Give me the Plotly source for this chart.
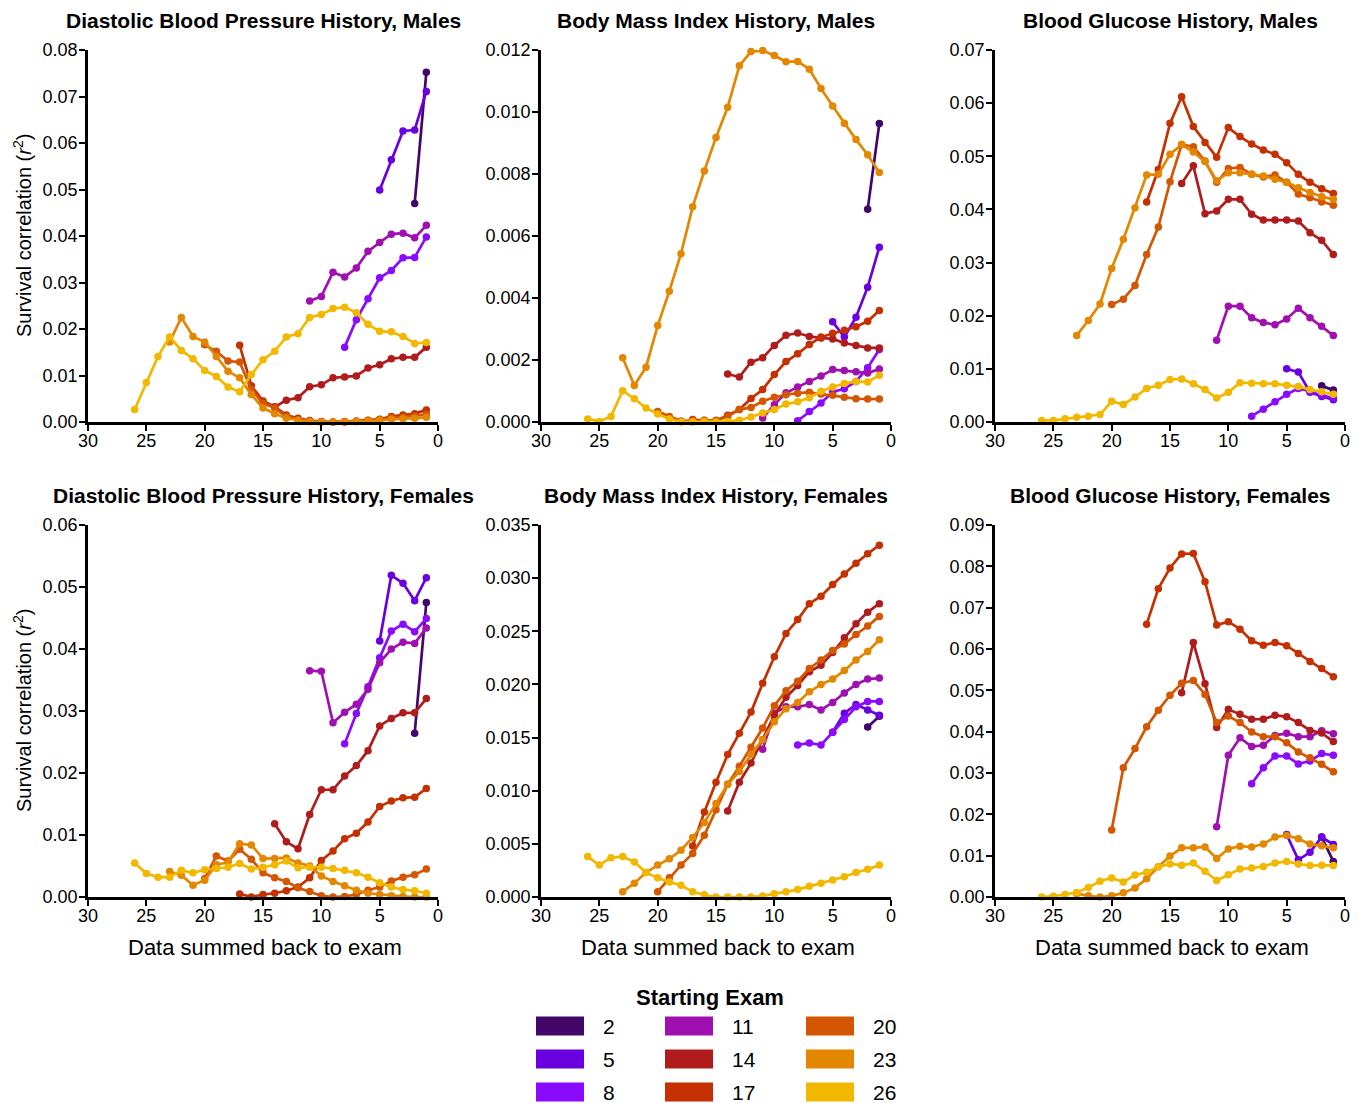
import plotly.graph_objects as go

# ---------------- data ----------------
exams = [2, 5, 8, 11, 14, 17, 20, 23, 26]
exam_colors = ["#43076a", "#6a00e0", "#8a0aff", "#a010b0", "#b01c1c",
               "#c43000", "#d55600", "#e38600", "#f2b800"]

# values listed from x = starting exam down to x = 1
dbp_males = {
    2: [0.0470, 0.0752],
    5: [0.0499, 0.0564, 0.0626, 0.0628, 0.0711],
    8: [0.0161, 0.0220, 0.0265, 0.0310, 0.0326, 0.0353, 0.0354, 0.0398],
    11: [0.0260, 0.0270, 0.0322, 0.0312, 0.0331, 0.0367, 0.0386, 0.0404, 0.0406, 0.0396, 0.0423],
    14: [0.0032, 0.0047, 0.0052, 0.0076, 0.0080, 0.0095, 0.0097, 0.0099, 0.0116, 0.0123, 0.0136, 0.0139, 0.0139, 0.0161],
    17: [0.0165, 0.0078, 0.0045, 0.0033, 0.0015, 0.0008, 0.0003, 0.0001, 0.0000, 0.0001, 0.0002, 0.0004, 0.0006, 0.0012, 0.0015, 0.0018, 0.0026],
    20: [0.0166, 0.0152, 0.0131, 0.0129, 0.0070, 0.0040, 0.0030, 0.0012, 0.0005, 0.0001, 0.0000, 0.0000, 0.0000, 0.0001, 0.0003, 0.0005, 0.0009, 0.0011, 0.0013, 0.0016],
    23: [0.0172, 0.0225, 0.0184, 0.0172, 0.0141, 0.0109, 0.0095, 0.0059, 0.0030, 0.0018, 0.0008, 0.0004, 0.0001, 0.0000, 0.0000, 0.0000, 0.0001, 0.0002, 0.0004, 0.0006, 0.0007, 0.0008, 0.0010],
    26: [0.0027, 0.0085, 0.0141, 0.0183, 0.0154, 0.0136, 0.0111, 0.0098, 0.0075, 0.0065, 0.0102, 0.0134, 0.0152, 0.0183, 0.0190, 0.0225, 0.0231, 0.0244, 0.0247, 0.0235, 0.0210, 0.0195, 0.0194, 0.0184, 0.0169, 0.0171],
}

bmi_males = {
    2: [0.00686, 0.00963],
    5: [0.00323, 0.00274, 0.00338, 0.00435, 0.00564],
    8: [0.00004, 0.00034, 0.00061, 0.00097, 0.00107, 0.00131, 0.00175, 0.00234],
    11: [0.00013, 0.00056, 0.00094, 0.00113, 0.00131, 0.00148, 0.00169, 0.00166, 0.00162, 0.00158, 0.00171],
    14: [0.00155, 0.00145, 0.00193, 0.00207, 0.00247, 0.00280, 0.00287, 0.00276, 0.00271, 0.00268, 0.00255, 0.00247, 0.00239, 0.00239],
    17: [0.00008, 0.00005, 0.00003, 0.00022, 0.00040, 0.00076, 0.00105, 0.00153, 0.00195, 0.00220, 0.00250, 0.00274, 0.00286, 0.00296, 0.00307, 0.00325, 0.00360],
    20: [0.00034, 0.00018, 0.00003, 0.00005, 0.00006, 0.00006, 0.00018, 0.00040, 0.00047, 0.00067, 0.00080, 0.00088, 0.00093, 0.00096, 0.00090, 0.00086, 0.00080, 0.00075, 0.00074, 0.00074],
    23: [0.00207, 0.00118, 0.00177, 0.00311, 0.00422, 0.00543, 0.00694, 0.00810, 0.00918, 0.01015, 0.01149, 0.01195, 0.01198, 0.01182, 0.01162, 0.01163, 0.01138, 0.01076, 0.01019, 0.00964, 0.00911, 0.00862, 0.00805],
    26: [0.00010, 0.00002, 0.00018, 0.00101, 0.00075, 0.00045, 0.00026, 0.00010, 0.00000, 0.00000, 0.00002, 0.00000, 0.00002, 0.00006, 0.00016, 0.00029, 0.00040, 0.00058, 0.00065, 0.00078, 0.00099, 0.00113, 0.00124, 0.00131, 0.00129, 0.00151],
}

bg_males = {
    2: [0.0068, 0.0060],
    5: [0.0100, 0.0094, 0.0056, 0.0048, 0.0042],
    8: [0.0011, 0.0024, 0.0038, 0.0052, 0.0063, 0.0058, 0.0050, 0.0045],
    11: [0.0154, 0.0218, 0.0218, 0.0196, 0.0187, 0.0183, 0.0194, 0.0214, 0.0196, 0.0180, 0.0163],
    14: [0.0449, 0.0482, 0.0392, 0.0397, 0.0419, 0.0419, 0.0391, 0.0380, 0.0380, 0.0380, 0.0378, 0.0356, 0.0342, 0.0315],
    17: [0.0414, 0.0475, 0.0562, 0.0612, 0.0556, 0.0526, 0.0498, 0.0554, 0.0537, 0.0523, 0.0512, 0.0504, 0.0488, 0.0466, 0.0451, 0.0439, 0.0430],
    20: [0.0221, 0.0231, 0.0257, 0.0315, 0.0367, 0.0452, 0.0522, 0.0518, 0.0491, 0.0451, 0.0477, 0.0479, 0.0466, 0.0461, 0.0465, 0.0451, 0.0429, 0.0422, 0.0414, 0.0408],
    23: [0.0163, 0.0191, 0.0222, 0.0289, 0.0344, 0.0403, 0.0465, 0.0466, 0.0504, 0.0522, 0.0508, 0.0490, 0.0454, 0.0469, 0.0469, 0.0466, 0.0463, 0.0457, 0.0451, 0.0441, 0.0432, 0.0424, 0.0419],
    26: [0.0003, 0.0003, 0.0006, 0.0009, 0.0011, 0.0014, 0.0039, 0.0033, 0.0047, 0.0063, 0.0069, 0.0080, 0.0081, 0.0072, 0.0061, 0.0045, 0.0056, 0.0074, 0.0073, 0.0072, 0.0072, 0.0069, 0.0067, 0.0061, 0.0057, 0.0052],
}

dbp_females = {
    2: [0.0264, 0.0475],
    5: [0.0413, 0.0519, 0.0506, 0.0478, 0.0515],
    8: [0.0247, 0.0296, 0.0339, 0.0386, 0.0429, 0.0440, 0.0428, 0.0449],
    11: [0.0365, 0.0364, 0.0281, 0.0298, 0.0311, 0.0335, 0.0378, 0.0400, 0.0411, 0.0409, 0.0434],
    14: [0.0118, 0.0089, 0.0078, 0.0133, 0.0173, 0.0173, 0.0195, 0.0212, 0.0236, 0.0276, 0.0288, 0.0297, 0.0297, 0.0320],
    17: [0.0005, 0.0000, 0.0004, 0.0006, 0.0010, 0.0016, 0.0031, 0.0059, 0.0074, 0.0094, 0.0103, 0.0121, 0.0146, 0.0155, 0.0160, 0.0161, 0.0175],
    20: [0.0030, 0.0066, 0.0058, 0.0077, 0.0061, 0.0039, 0.0031, 0.0025, 0.0015, 0.0009, 0.0002, 0.0000, 0.0001, 0.0004, 0.0011, 0.0016, 0.0026, 0.0032, 0.0036, 0.0045],
    23: [0.0041, 0.0035, 0.0019, 0.0027, 0.0052, 0.0056, 0.0086, 0.0084, 0.0062, 0.0062, 0.0063, 0.0055, 0.0050, 0.0034, 0.0025, 0.0018, 0.0011, 0.0006, 0.0004, 0.0002, 0.0001, 0.0000, 0.0000],
    26: [0.0055, 0.0038, 0.0032, 0.0032, 0.0043, 0.0039, 0.0044, 0.0046, 0.0048, 0.0054, 0.0045, 0.0048, 0.0052, 0.0058, 0.0047, 0.0048, 0.0048, 0.0046, 0.0043, 0.0039, 0.0032, 0.0023, 0.0016, 0.0012, 0.0010, 0.0006],
}

bmi_females = {
    2: [0.0160, 0.0170],
    5: [0.0155, 0.0173, 0.0181, 0.0176, 0.0171],
    8: [0.0143, 0.0145, 0.0143, 0.0155, 0.0167, 0.0179, 0.0184, 0.0184],
    11: [0.0139, 0.0173, 0.0179, 0.0179, 0.0181, 0.0176, 0.0183, 0.0192, 0.0200, 0.0205, 0.0206],
    14: [0.0081, 0.0108, 0.0126, 0.0148, 0.0171, 0.0188, 0.0199, 0.0212, 0.0218, 0.0230, 0.0244, 0.0257, 0.0268, 0.0276],
    17: [0.0048, 0.0080, 0.0108, 0.0134, 0.0154, 0.0174, 0.0201, 0.0226, 0.0248, 0.0261, 0.0276, 0.0283, 0.0294, 0.0304, 0.0314, 0.0323, 0.0331],
    20: [0.0005, 0.0018, 0.0030, 0.0041, 0.0058, 0.0082, 0.0106, 0.0123, 0.0141, 0.0159, 0.0180, 0.0194, 0.0203, 0.0215, 0.0223, 0.0232, 0.0238, 0.0247, 0.0255, 0.0264],
    23: [0.0005, 0.0013, 0.0023, 0.0030, 0.0036, 0.0044, 0.0056, 0.0070, 0.0088, 0.0106, 0.0118, 0.0134, 0.0148, 0.0165, 0.0177, 0.0183, 0.0193, 0.0200, 0.0205, 0.0213, 0.0223, 0.0231, 0.0242],
    26: [0.0038, 0.0030, 0.0037, 0.0038, 0.0033, 0.0023, 0.0018, 0.0014, 0.0011, 0.0005, 0.0002, 0.0000, 0.0000, 0.0000, 0.0000, 0.0001, 0.0003, 0.0005, 0.0007, 0.0010, 0.0013, 0.0016, 0.0019, 0.0023, 0.0026, 0.0030],
}

bg_females = {
    2: [0.0145, 0.0086],
    5: [0.0151, 0.0090, 0.0108, 0.0145, 0.0127],
    8: [0.0274, 0.0313, 0.0341, 0.0341, 0.0322, 0.0329, 0.0347, 0.0343],
    11: [0.0170, 0.0343, 0.0385, 0.0364, 0.0367, 0.0391, 0.0396, 0.0388, 0.0388, 0.0402, 0.0395],
    14: [0.0494, 0.0616, 0.0516, 0.0410, 0.0454, 0.0442, 0.0430, 0.0430, 0.0440, 0.0436, 0.0422, 0.0403, 0.0397, 0.0376],
    17: [0.0660, 0.0746, 0.0796, 0.0830, 0.0831, 0.0763, 0.0658, 0.0666, 0.0648, 0.0620, 0.0609, 0.0616, 0.0608, 0.0589, 0.0570, 0.0553, 0.0533],
    20: [0.0162, 0.0313, 0.0359, 0.0412, 0.0452, 0.0488, 0.0517, 0.0524, 0.0490, 0.0422, 0.0438, 0.0422, 0.0399, 0.0388, 0.0388, 0.0373, 0.0351, 0.0337, 0.0321, 0.0303],
    23: [0.0008, 0.0003, 0.0000, 0.0003, 0.0010, 0.0022, 0.0044, 0.0073, 0.0099, 0.0119, 0.0119, 0.0121, 0.0093, 0.0116, 0.0123, 0.0121, 0.0128, 0.0145, 0.0149, 0.0141, 0.0128, 0.0124, 0.0119],
    26: [0.0000, 0.0002, 0.0006, 0.0011, 0.0023, 0.0038, 0.0046, 0.0036, 0.0053, 0.0060, 0.0073, 0.0080, 0.0077, 0.0082, 0.0062, 0.0040, 0.0054, 0.0068, 0.0070, 0.0074, 0.0082, 0.0086, 0.0080, 0.0076, 0.0077, 0.0076],
}

panel_titles = [
    "Diastolic Blood Pressure History, Males", "Body Mass Index History, Males", "Blood Glucose History, Males",
    "Diastolic Blood Pressure History, Females", "Body Mass Index History, Females", "Blood Glucose History, Females",
]
panel_data = [dbp_males, bmi_males, bg_males, dbp_females, bmi_females, bg_females]
y_max = [0.08, 0.012, 0.07, 0.06, 0.035, 0.09]
y_step = [0.01, 0.002, 0.01, 0.01, 0.005, 0.01]
y_fmt = [".2f", ".3f", ".2f", ".2f", ".3f", ".2f"]
x_ticks = [0, 5, 10, 15, 20, 25, 30]

x_label = "Data summed back to exam"
y_label = "Survival correlation (<i>r</i><sup>2</sup>)"
legend_title = "Starting Exam"

# ---------------- layout ----------------
W, H = 1363, 1103
FONT = "Liberation Sans, Arial, Helvetica, sans-serif"


def fx(p):
    return p / W


def fy(p):
    return 1 - p / H


col_px = [(88, 438), (541, 891), (995, 1345)]
row_px = [(50, 422), (525, 897)]
title_px = [20, 495]

fig = go.Figure()
layout = dict(
    width=W, height=H, margin=dict(l=0, r=0, t=0, b=0, autoexpand=False),
    paper_bgcolor="white", plot_bgcolor="white",
    showlegend=False, font=dict(family=FONT, color="black"),
)
annotations = []
shapes = []

for i in range(6):
    r, c = divmod(i, 3)
    n = i + 1
    xa = "x" if n == 1 else f"x{n}"
    ya = "y" if n == 1 else f"y{n}"
    x0, x1 = col_px[c]
    y0, y1 = row_px[r]
    data = panel_data[i]
    for s, col in zip(exams, exam_colors):
        vals = data[s]
        xs = list(range(s, 0, -1))
        fig.add_trace(go.Scatter(
            x=xs, y=vals, mode="lines+markers", xaxis=xa, yaxis=ya,
            line=dict(color=col, width=2.7), marker=dict(color=col, size=7.5),
            cliponaxis=False, showlegend=False, name=str(s),
        ))
    axis_common = dict(showgrid=False, zeroline=False, showline=True, linecolor="black",
                       linewidth=2.6, ticks="outside", ticklen=6, tickwidth=2,
                       tickcolor="black",
                       tickfont=dict(size=18, family=FONT, color="black"))
    layout["xaxis" if n == 1 else f"xaxis{n}"] = dict(
        domain=[fx(x0), fx(x1)], anchor=ya, range=[30, 0], ticklabelstandoff=-5,
        tickvals=x_ticks, ticktext=[str(v) for v in x_ticks], **axis_common)
    nt = int(round(y_max[i] / y_step[i]))
    yt = [k * y_step[i] for k in range(nt + 1)]
    layout["yaxis" if n == 1 else f"yaxis{n}"] = dict(
        domain=[fy(y1), fy(y0)], anchor=xa, range=[0, y_max[i]], ticklabelstandoff=-2,
        tickvals=yt, tickformat=y_fmt[i], **axis_common)
    annotations.append(dict(
        text=f"<b>{panel_titles[i]}</b>", xref="paper", yref="paper",
        x=fx((x0 + x1) / 2), y=fy(title_px[r]), xanchor="center", yanchor="middle",
        showarrow=False, font=dict(size=21, family=FONT, color="black")))
    if c == 0:
        annotations.append(dict(
            text=y_label, xref="paper", yref="paper", textangle=-90,
            x=fx(22), y=fy((y0 + y1) / 2), xanchor="center", yanchor="middle",
            showarrow=False, font=dict(size=20, family=FONT, color="black")))
    if r == 1:
        annotations.append(dict(
            text=x_label, xref="paper", yref="paper",
            x=fx((x0 + x1) / 2 + 2), y=fy(947), xanchor="center", yanchor="middle",
            showarrow=False, font=dict(size=22, family=FONT, color="black")))

# legend (drawn manually: 3 columns of swatches)
annotations.append(dict(
    text=f"<b>{legend_title}</b>", xref="paper", yref="paper",
    x=fx(710), y=fy(997), xanchor="center", yanchor="middle",
    showarrow=False, font=dict(size=22, family=FONT, color="black")))
sw_x = [536, 665, 806]
sw_y = [1026, 1059, 1092]
for k, (s, col) in enumerate(zip(exams, exam_colors)):
    cc, rr = divmod(k, 3)
    sx, sy = sw_x[cc], sw_y[rr]
    shapes.append(dict(type="rect", xref="paper", yref="paper",
                       x0=fx(sx), x1=fx(sx + 48), y0=fy(sy + 9.5), y1=fy(sy - 9.5),
                       fillcolor=col, line=dict(width=0)))
    annotations.append(dict(
        text=str(s), xref="paper", yref="paper",
        x=fx(sx + 65), y=fy(sy), xanchor="left", yanchor="middle",
        showarrow=False, font=dict(size=21, family=FONT, color="black")))

layout["annotations"] = annotations
layout["shapes"] = shapes
fig.update_layout(**layout)
fig.write_html("out.html")
